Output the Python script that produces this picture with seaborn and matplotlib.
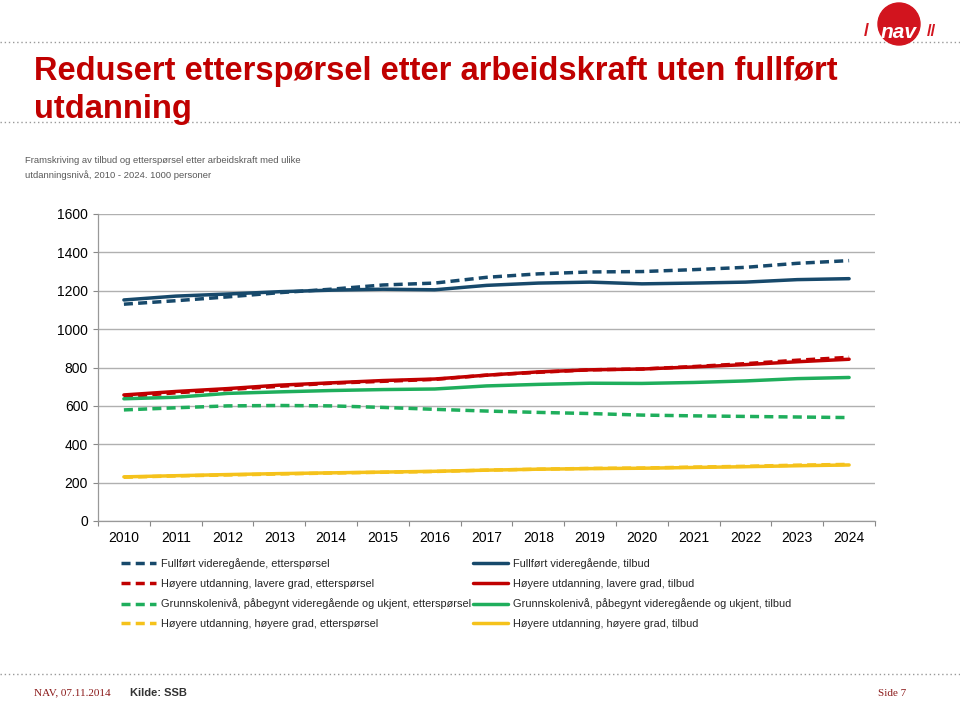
import matplotlib
matplotlib.use("Agg")
import matplotlib.pyplot as plt
import seaborn as sns
from matplotlib.patches import Circle
from matplotlib.lines import Line2D

# Data (1000 personer)
years = list(range(2010, 2025))
fvg_demand = [1130, 1148, 1168, 1190, 1208, 1230, 1240, 1270, 1288, 1298, 1300, 1310, 1322, 1343, 1357]
fvg_supply = [1152, 1172, 1183, 1195, 1203, 1208, 1205, 1228, 1240, 1245, 1236, 1240, 1245, 1258, 1263]
hul_demand = [648, 668, 685, 702, 718, 728, 738, 760, 775, 788, 792, 805, 820, 838, 853]
hul_supply = [657, 675, 690, 708, 720, 732, 740, 760, 777, 788, 792, 803, 815, 830, 843]
gs_demand = [579, 590, 600, 602, 600, 592, 582, 573, 566, 560, 552, 548, 545, 542, 539]
gs_supply = [637, 645, 665, 673, 680, 685, 688, 704, 712, 718, 717, 722, 730, 742, 748]
hhg_demand = [228, 235, 240, 245, 250, 254, 258, 265, 270, 274, 276, 281, 285, 291, 295]
hhg_supply = [230, 236, 242, 247, 251, 255, 259, 265, 270, 273, 275, 279, 283, 288, 292]

groups = ["Fullført videregående", "Høyere utdanning, lavere grad",
          "Grunnskolenivå, påbegynt videregående og ukjent", "Høyere utdanning, høyere grad"]
demand = [fvg_demand, hul_demand, gs_demand, hhg_demand]
supply = [fvg_supply, hul_supply, gs_supply, hhg_supply]
colors = ["#17496b", "#c00000", "#1fae5c", "#f5c21b"]

sns.set_theme(style="white")
plt.rcParams["font.family"] = ["Liberation Sans", "DejaVu Sans"]

fig = plt.figure(figsize=(9.6, 7.02), dpi=100)
ax = fig.add_axes([98 / 960, 1 - 521 / 702, 777 / 960, 307 / 702])

lw = 2.5
dash = (0, (2.6, 1.5))
for d, s, c in zip(demand, supply, colors):
    sns.lineplot(x=years, y=s, ax=ax, color=c, linewidth=lw, linestyle="-")
    sns.lineplot(x=years, y=d, ax=ax, color=c, linewidth=lw, linestyle=dash)

ax.set_xlim(2009.5, 2024.5)
ax.set_ylim(0, 1600)
ax.set_yticks(range(0, 1601, 200))
ax.set_xticks(years)
ax.set_xticks([y + 0.5 for y in range(2009, 2025)], minor=True)
ax.tick_params(axis="x", which="major", length=0, pad=7, labelsize=10, labelcolor="#000000")
ax.tick_params(axis="x", which="minor", length=3.6, width=0.8, color="#888888",
               direction="out", bottom=True)
ax.tick_params(axis="y", length=3.6, width=0.8, color="#888888", direction="out", left=True,
               pad=3.6, labelsize=10, labelcolor="#000000")
ax.grid(axis="y", color="#b0b0b0", linewidth=1.0)
ax.grid(axis="x", visible=False)
for side in ["right", "top"]:
    ax.spines[side].set_visible(False)
for side in ["left", "bottom"]:
    ax.spines[side].set_color("#999999")
    ax.spines[side].set_linewidth(0.9)
ax.set_xlabel("")
ax.set_ylabel("")

handles, labels = [], []
for g, c in zip(groups, colors):
    handles.append(Line2D([], [], color=c, linewidth=lw, linestyle=dash))
    labels.append(f"{g}, etterspørsel")
for g, c in zip(groups, colors):
    handles.append(Line2D([], [], color=c, linewidth=lw))
    labels.append(f"{g}, tilbud")
fig.legend(handles, labels, ncol=2, loc="upper left", bbox_to_anchor=(111 / 960, 1 - 548 / 702),
           frameon=False, fontsize=7.9, handlelength=3.2, handletextpad=0.45,
           columnspacing=0.2, labelspacing=0.9)

# Header
for yy in [42, 122, 674]:
    fig.add_artist(Line2D([0, 1], [1 - yy / 702] * 2, color="#999999", linewidth=1.0,
                          linestyle=(0, (1, 2)), transform=fig.transFigure))
title_kw = dict(color="#c00000", fontsize=23.5, fontweight="bold", va="baseline", ha="left")
fig.text(34 / 960, 1 - 80 / 702, "Redusert etterspørsel etter arbeidskraft uten fullført", **title_kw)
fig.text(34 / 960, 1 - 118 / 702, "utdanning", **title_kw)
fig.text(25 / 960, 1 - 168 / 702,
         "Framskriving av tilbud og etterspørsel etter arbeidskraft med ulike\nutdanningsnivå, 2010 - 2024. 1000 personer",
         color="#595959", fontsize=6.8, va="center", ha="left", linespacing=1.6)

# NAV logo
fig.add_artist(Circle((8.99, 7.02 - 0.24), 0.21, transform=fig.dpi_scale_trans,
                      color="#d2141e", zorder=5))
fig.text(899 / 960, 1 - 32 / 702, "nav", color="white", fontsize=15, fontweight="bold",
         fontstyle="italic", ha="center", va="center", zorder=6)
fig.text(866 / 960, 1 - 32 / 702, "/", color="#d2141e", fontsize=13, fontweight="bold",
         ha="center", va="center")
fig.text(931 / 960, 1 - 32 / 702, "//", color="#d2141e", fontsize=12, fontweight="bold",
         ha="center", va="center")

# Footer
fig.text(34 / 960, 1 - 693 / 702, "NAV, 07.11.2014", color="#8b1a1a", fontsize=8,
         family=["Liberation Serif", "DejaVu Serif"], va="center", ha="left")
fig.text(130 / 960, 1 - 693 / 702, "Kilde: SSB", color="#333333", fontsize=8,
         fontweight="bold", va="center", ha="left")
fig.text(906 / 960, 1 - 693 / 702, "Side 7", color="#8b1a1a", fontsize=8,
         family=["Liberation Serif", "DejaVu Serif"], va="center", ha="right")

fig.savefig("out.png", dpi=100)
